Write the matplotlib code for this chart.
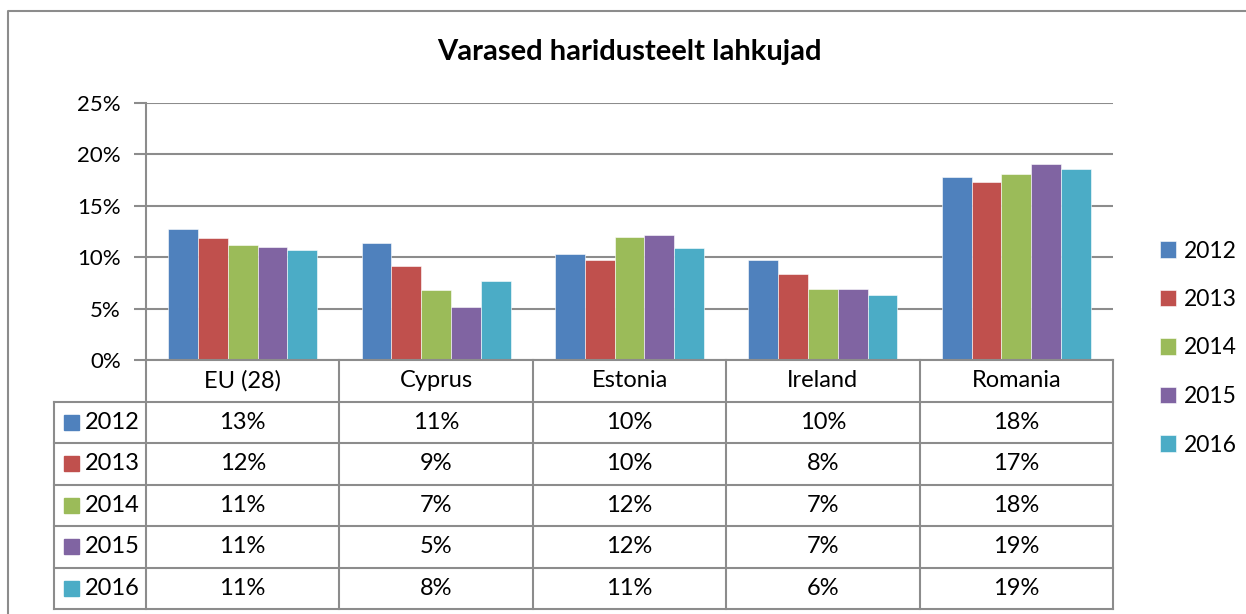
import numpy as np
from matplotlib import pyplot as plt

plt.rcParams['font.family'] = ['Lato', 'DejaVu Sans']

#####

countries = ['EU (28)', 'Cyprus', 'Estonia', 'Ireland', 'Romania']
years = ['2012', '2013', '2014', '2015', '2016']
# values in percent, one list per year
vals = {
    '2012': [12.7, 11.4, 10.3, 9.7, 17.8],
    '2013': [11.9, 9.1, 9.7, 8.4, 17.3],
    '2014': [11.2, 6.8, 12.0, 6.9, 18.1],
    '2015': [11.0, 5.2, 12.2, 6.9, 19.1],
    '2016': [10.7, 7.7, 10.9, 6.3, 18.6],
}
colors = ['#4F81BD', '#C0504D', '#9BBB59', '#8064A2', '#4BACC6']
title = 'Varased haridusteelt lahkujad'
yticks = [0, 5, 10, 15, 20, 25]

#####

W, H = 1246, 614
fig = plt.figure(figsize=(W/100., H/100.), dpi=100)
gc = '#8C8C8C'
fs = 16
fst = 17

def fx(px):
    return px / W

def fy(py):
    return 1 - py / H

# outer chart border
fig.add_artist(plt.Line2D([fx(8), fx(8), fx(1246)], [fy(614), fy(11), fy(11)],
                          color=gc, lw=1.5, transform=fig.transFigure))

L, R, T, B = 146, 1113, 103, 360
ax = fig.add_axes([fx(L), fy(B), fx(R - L), fy(T) - fy(B)])

n = len(years)
grp = 0.77
bw = grp / n
x = np.arange(len(countries))
for i, yr in enumerate(years):
    ax.bar(x - grp/2 + bw*(i + 0.5), vals[yr], width=bw, color=colors[i],
           edgecolor='white', linewidth=0.4, zorder=3, label=yr)

ax.set_xlim(-0.5, len(countries) - 0.5)
ax.set_ylim(0, 25)
ax.set_yticks(yticks)
ax.set_yticklabels([str(t) + '%' for t in yticks], fontsize=fs)
ax.set_xticks([])
ax.grid(axis='y', color=gc, lw=1.5, zorder=0)
for s in ['top', 'right', 'bottom']:
    ax.spines[s].set_visible(False)
ax.spines['left'].set_color(gc)
ax.spines['left'].set_linewidth(1.5)
ax.tick_params(axis='y', length=9, width=1.5, color=gc, pad=9)

ax.set_title(title, fontsize=21, fontweight='bold', pad=0,
             y=(fy(52) - fy(B)) / (fy(T) - fy(B)), va='center')

# data table below
TB = 609
tax = fig.add_axes([fx(L), fy(TB), fx(R - L), fy(B) - fy(TB)])
tax.set_xlim(-0.5, len(countries) - 0.5)
nrows = len(years) + 1
tax.set_ylim(nrows, 0)
tax.axis('off')
cw = (R - L) / len(countries)
xl = -0.5 - (L - 54) / cw

kw = dict(color=gc, lw=1.5, clip_on=False, solid_capstyle='projecting')
tax.plot([-0.5, len(countries) - 0.5], [0, 0], **kw)
for r in range(1, nrows + 1):
    tax.plot([xl, len(countries) - 0.5], [r, r], **kw)
for c in range(len(countries) + 1):
    tax.plot([c - 0.5, c - 0.5], [0, nrows], **kw)
tax.plot([xl, xl], [1, nrows], **kw)

for j, cn in enumerate(countries):
    tax.text(j, 0.5, cn, ha='center', va='center', fontsize=fst)
for i, yr in enumerate(years):
    for j in range(len(countries)):
        tax.text(j, i + 1.5, '%d%%' % int(vals[yr][j] + 0.5),
                 ha='center', va='center', fontsize=fst)
    sq = (15. / cw)
    tax.add_patch(plt.Rectangle((xl + 10. / cw, i + 1.5 - 0.18), sq, 0.36,
                                color=colors[i], clip_on=False))
    tax.text(xl + 31. / cw, i + 1.5, yr, ha='left', va='center', fontsize=fst)

# legend on right
leg = fig.legend(loc='center left', bbox_to_anchor=(fx(1139), fy(348)),
                 frameon=False, fontsize=16.5, handlelength=0.7, handleheight=0.7,
                 handletextpad=0.35, labelspacing=1.2)

fig.savefig('out.png', dpi=100)
